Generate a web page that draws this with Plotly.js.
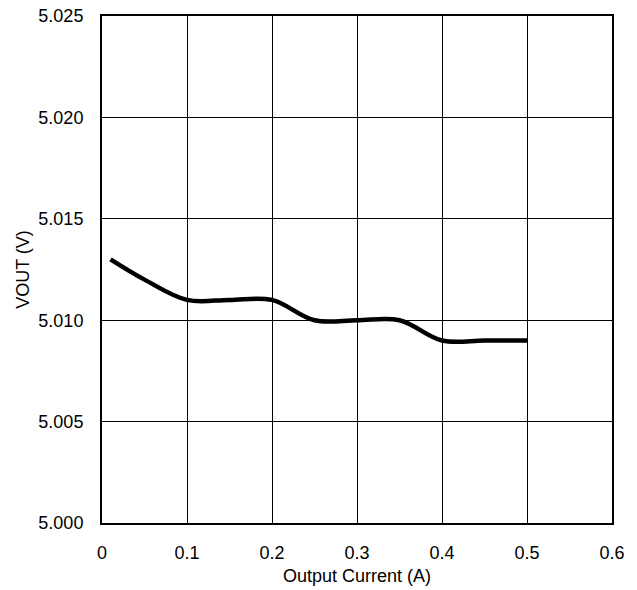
<!DOCTYPE html>
<html>
<head>
<meta charset="utf-8">
<script src="https://cdn.plot.ly/plotly-3.0.1.min.js"></script>
<style>html,body{margin:0;padding:0;background:#fff;}#chart{width:637px;height:590px;}</style>
</head>
<body>
<div id="chart"></div>
<script>
const currentA = [0.01, 0.05, 0.1, 0.15, 0.2, 0.25, 0.3, 0.35, 0.4, 0.45, 0.5];
const voutV = [5.013, 5.012, 5.011, 5.011, 5.011, 5.010, 5.010, 5.010, 5.009, 5.009, 5.009];
const xTicks = [0, 0.1, 0.2, 0.3, 0.4, 0.5, 0.6];
const xTickLabels = ['0', '0.1', '0.2', '0.3', '0.4', '0.5', '0.6'];
const yTicks = [5.000, 5.005, 5.010, 5.015, 5.020, 5.025];
const yTickLabels = ['5.000', '5.005', '5.010', '5.015', '5.020', '5.025'];

const trace = {
  x: currentA, y: voutV, type: 'scatter', mode: 'lines',
  line: {color: '#000', width: 4.5, shape: 'spline', smoothing: 1},
  hoverinfo: 'skip'
};
const fontFam = 'Liberation Sans, Arial, sans-serif';
const layout = {
  width: 637, height: 590,
  margin: {l: 102, r: 25, t: 16, b: 67},
  paper_bgcolor: '#fff', plot_bgcolor: '#fff',
  showlegend: false,
  font: {family: fontFam, size: 18, color: '#000'},
  xaxis: {
    range: [0, 0.6], tickvals: xTicks, ticktext: xTickLabels,
    showgrid: true, gridcolor: '#000', gridwidth: 1,
    showline: true, linecolor: '#000', linewidth: 2, mirror: true,
    ticks: '', zeroline: false, ticklabelstandoff: 12,
    tickfont: {family: fontFam, size: 18, color: '#000'},
    title: {text: 'Output Current (A)', font: {family: fontFam, size: 18, color: '#000'}, standoff: 8}
  },
  yaxis: {
    range: [5.000, 5.025], tickvals: yTicks, ticktext: yTickLabels,
    showgrid: true, gridcolor: '#000', gridwidth: 1,
    showline: true, linecolor: '#000', linewidth: 2, mirror: true,
    ticks: '', zeroline: false, ticklabelstandoff: 13,
    tickfont: {family: fontFam, size: 18, color: '#000'},
    title: {text: 'VOUT (V)', font: {family: fontFam, size: 18, color: '#000'}, standoff: 4}
  }
};
Plotly.newPlot('chart', [trace], layout, {displayModeBar: false, staticPlot: true});
</script>
</body>
</html>
